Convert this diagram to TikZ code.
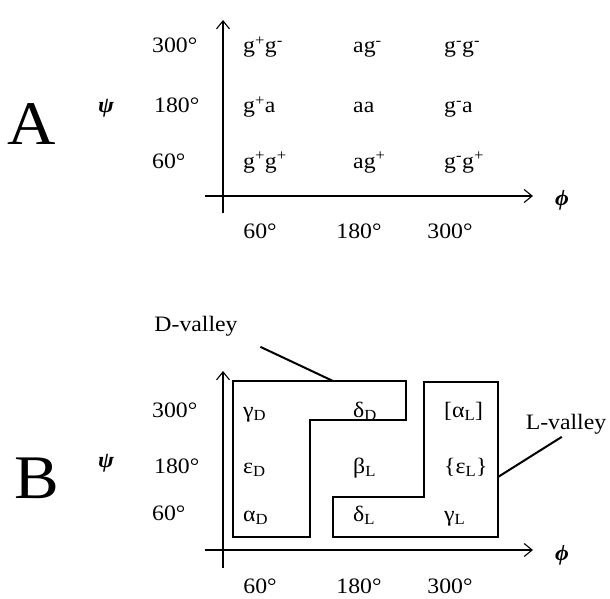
\documentclass[tikz,border=0pt]{standalone}
\usepackage{fontspec}
\setmainfont{Liberation Serif}[FakeStretch=1.08]
\usetikzlibrary{arrows.meta}

\newcommand{\lsub}[1]{\textsubscript{#1}}
\newcommand{\lsup}[1]{\textsuperscript{#1}}

\begin{document}
\begin{tikzpicture}[
        x=1pt, y=-1pt,
        >={Straight Barb[length=8pt,width=13pt]},
        lbl/.style={
            inner sep=0pt,
            font=\fontsize{22}{26}\selectfont
        },
        cell/.style={
            lbl,
            anchor=base west
        },
        panel/.style={
            inner sep=0pt,
            font=\fontsize{62}{72}\selectfont
        },
        axis/.style={
            ->,
            line width=1.1pt
        },
        region/.style={
            line width=2pt,
            line join=miter
        },
        leader/.style={
            line width=2pt
        }
    ]

    \useasboundingbox (0,0) rectangle (610,599);

    % panel A
    \coordinate (aOx) at (205,196);
    \coordinate (aEx) at (533,196);
    \coordinate (aOy) at (223,213);
    \coordinate (aEy) at (223,20);
    \draw[axis] (aOx) -- (aEx);
    \draw[axis] (aOy) -- (aEy);

    \node[panel] (pA)   at (32,124)  {A};
    \node[lbl]   (aPsi) at (106,108) {\bfseries\itshape ψ};
    \node[lbl]   (aPhi) at (562,200) {\bfseries\itshape ϕ};

    \node[cell] (aY300) at (152,53)  {300°};
    \node[cell] (aY180) at (154,113) {180°};
    \node[cell] (aY60)  at (152,168) {60°};

    \node[lbl, anchor=base] (aX60)  at (260,238) {60°};
    \node[lbl, anchor=base] (aX180) at (359,238) {180°};
    \node[lbl, anchor=base] (aX300) at (450,238) {300°};

    \node[cell] (a13) at (243,53)  {g\lsup{+}g\lsup{-}};
    \node[cell] (a23) at (353,53)  {ag\lsup{-}};
    \node[cell] (a33) at (444,53)  {g\lsup{-}g\lsup{-}};
    \node[cell] (a12) at (243,113) {g\lsup{+}a};
    \node[cell] (a22) at (353,113) {aa};
    \node[cell] (a32) at (444,113) {g\lsup{-}a};
    \node[cell] (a11) at (243,168) {g\lsup{+}g\lsup{+}};
    \node[cell] (a21) at (353,168) {ag\lsup{+}};
    \node[cell] (a31) at (444,168) {g\lsup{-}g\lsup{+}};

    % panel B
    \coordinate (bOx) at (205,550);
    \coordinate (bEx) at (533,550);
    \coordinate (bOy) at (223,568);
    \coordinate (bEy) at (223,371);
    \draw[axis] (bOx) -- (bEx);
    \draw[axis] (bOy) -- (bEy);

    \node[panel] (pB)   at (37,478)  {B};
    \node[lbl]   (bPsi) at (106,463) {\bfseries\itshape ψ};
    \node[lbl]   (bPhi) at (562,555) {\bfseries\itshape ϕ};

    \node[cell] (bY300) at (152,417) {300°};
    \node[cell] (bY180) at (154,473) {180°};
    \node[cell] (bY60)  at (152,520) {60°};

    \node[lbl, anchor=base] (bX60)  at (260,593) {60°};
    \node[lbl, anchor=base] (bX180) at (359,593) {180°};
    \node[lbl, anchor=base] (bX300) at (450,593) {300°};

    \draw[region] (233,381) -- (406,381) -- (406,420) -- (310,420)
        -- (310,537) -- (233,537) -- cycle;
    \draw[region] (333,537) -- (498,537) -- (498,382) -- (424,382)
        -- (424,497) -- (333,497) -- cycle;

    \node[cell] (gD)  at (243,417) {γ\lsub{D}};
    \node[cell] (dD)  at (353,417) {δ\lsub{D}};
    \node[cell] (aL)  at (444,417) {[α\lsub{L}]};
    \node[cell] (eD)  at (243,473) {ε\lsub{D}};
    \node[cell] (bL)  at (353,473) {β\lsub{L}};
    \node[cell] (eL)  at (444,473) {\{ε\lsub{L}\}};
    \node[cell] (aD)  at (243,521) {α\lsub{D}};
    \node[cell] (dL)  at (353,521) {δ\lsub{L}};
    \node[cell] (gL)  at (444,521) {γ\lsub{L}};

    \node[lbl] (dval) at (196,326) {D-valley};
    \node[lbl] (lval) at (566,424) {L-valley};
    \coordinate (dtip) at (333,381);
    \coordinate (ltip) at (498,477);
    \draw[leader, shorten <=25pt] (dval.south east) -- (dtip);
    \draw[leader, shorten <=5pt] (lval.south) -- (ltip);

\end{tikzpicture}
\end{document}
